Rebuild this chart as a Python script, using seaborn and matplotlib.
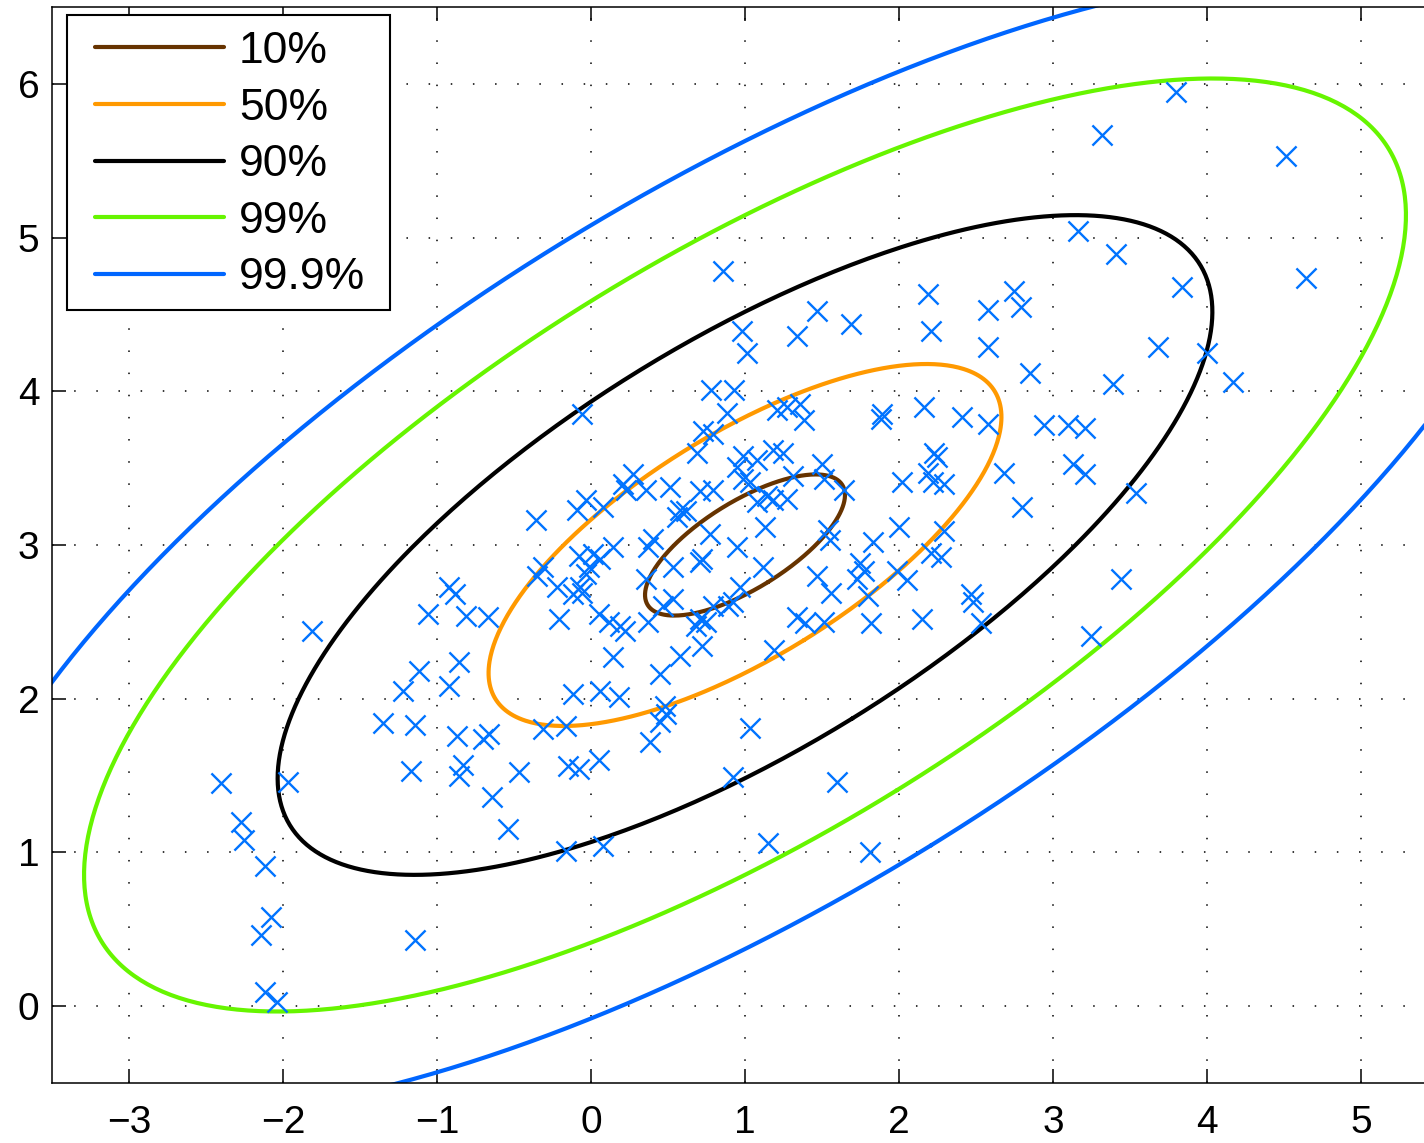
import numpy as np
import pandas as pd
import matplotlib
matplotlib.use("Agg")
import matplotlib.pyplot as plt
import matplotlib.patches as mpatches
import seaborn as sns

# ---- sample points ----
x_pts = [3.80, 3.32, 4.51, 3.16, 3.41, 4.64, 0.86, 3.84, 2.19, 2.75,
         2.79, 1.47, 1.69, 1.34, 2.21, 2.58, 2.58, 2.85, 0.98, 1.01,
         0.78, 0.93, 3.68, 4.00, 3.39, 4.17, 3.21, 3.21, 3.54, 3.44,
         3.25, 1.27, 1.36, 1.38, 1.89, 1.88, 2.16, 2.41, 2.58, 2.94,
         3.10, 3.13, 2.23, 2.25, 2.19, 2.22, 2.29, 2.68, 2.80, 2.02,
         1.25, 1.31, 1.50, 1.51, 1.64, 1.27, 1.54, 1.55, 1.83, 2.00,
         2.29, 2.21, 2.27, 1.75, 1.77, 1.73, 1.99, 2.05, 1.47, 1.56,
         1.80, 2.47, 2.48, 2.53, 1.34, 1.39, 1.51, 1.82, 2.15, 1.19,
         -0.06, 0.88, 1.21, 0.73, 0.79, 0.69, 0.99, 1.08, 1.18, 0.99,
         0.95, 0.27, 0.21, 0.23, 0.36, 0.51, 0.71, 0.79, 1.03, 1.14,
         1.18, 1.08, -0.03, -0.09, 0.08, -0.36, 0.58, 0.62, 0.56, 0.77,
         1.13, 0.40, 0.37, 0.14, 0.95, 0.01, -0.08, 0.06, 0.72, 0.71,
         -0.31, -0.01, 0.53, 1.12, -0.35, -0.03, 0.36, -0.22, -0.07, -0.12,
         -0.06, 0.97, 0.53, 0.92, 0.89, 0.79, 0.47, -0.67, -0.21, 0.05,
         0.12, 0.19, 0.22, 0.37, 0.71, 0.75, 0.68, 0.72, 0.14, 0.58,
         0.45, -0.12, 0.06, 0.18, 0.48, -0.92, -0.88, -1.06, -0.81, -1.81,
         -0.86, -1.12, -1.22, -0.92, -1.35, -1.14, -0.87, -1.17, -0.83, -0.86,
         -2.40, -1.97, -2.27, -2.25, -2.12, -2.08, -2.14, -1.14, -2.12, -2.04,
         -0.66, -0.70, -0.31, -0.16, 0.45, 0.49, 0.38, 1.03, -0.47, -0.15,
         -0.08, 0.05, -0.64, -0.54, 0.92, -0.16, 0.08, 1.15, 1.60, 1.81]
y_pts = [5.95, 5.67, 5.53, 5.04, 4.89, 4.74, 4.78, 4.68, 4.63, 4.65,
         4.55, 4.52, 4.44, 4.36, 4.39, 4.53, 4.29, 4.12, 4.39, 4.25,
         4.01, 4.01, 4.29, 4.25, 4.05, 4.06, 3.76, 3.46, 3.34, 2.78,
         2.41, 3.90, 3.92, 3.81, 3.85, 3.82, 3.90, 3.83, 3.79, 3.78,
         3.78, 3.53, 3.60, 3.57, 3.47, 3.41, 3.40, 3.47, 3.25, 3.41,
         3.60, 3.45, 3.53, 3.43, 3.36, 3.30, 3.10, 3.03, 3.02, 3.12,
         3.09, 2.95, 2.92, 2.88, 2.83, 2.78, 2.83, 2.77, 2.80, 2.69,
         2.67, 2.68, 2.63, 2.49, 2.53, 2.49, 2.50, 2.49, 2.52, 2.32,
         3.85, 3.86, 3.88, 3.74, 3.72, 3.60, 3.58, 3.55, 3.62, 3.43,
         3.51, 3.46, 3.40, 3.36, 3.36, 3.38, 3.35, 3.36, 3.41, 3.32,
         3.29, 3.28, 3.29, 3.23, 3.25, 3.16, 3.23, 3.22, 3.18, 3.07,
         3.12, 3.04, 2.99, 2.99, 2.99, 2.94, 2.93, 2.91, 2.91, 2.89,
         2.86, 2.86, 2.86, 2.86, 2.80, 2.81, 2.78, 2.73, 2.73, 2.68,
         2.69, 2.73, 2.65, 2.63, 2.60, 2.60, 2.60, 2.53, 2.52, 2.55,
         2.50, 2.47, 2.44, 2.50, 2.52, 2.50, 2.47, 2.34, 2.27, 2.28,
         2.16, 2.03, 2.05, 2.01, 1.95, 2.73, 2.68, 2.55, 2.54, 2.44,
         2.24, 2.18, 2.05, 2.08, 1.84, 1.83, 1.76, 1.53, 1.57, 1.50,
         1.45, 1.46, 1.20, 1.08, 0.91, 0.58, 0.46, 0.43, 0.09, 0.03,
         1.77, 1.74, 1.80, 1.82, 1.85, 1.90, 1.72, 1.81, 1.52, 1.56,
         1.54, 1.60, 1.36, 1.15, 1.49, 1.01, 1.04, 1.06, 1.46, 1.00]

# ---- Gaussian model behind the confidence contours ----
mean = [1.0, 3.0]
cov = [[2.0, 1.0], [1.0, 1.0]]
levels = [0.10, 0.50, 0.90, 0.99, 0.999]
level_labels = ["10%", "50%", "90%", "99%", "99.9%"]
level_colors = ["#663300", "#FF9900", "#000000", "#66F500", "#0066FF"]

x_ticks = [-3, -2, -1, 0, 1, 2, 3, 4, 5]
y_ticks = [0, 1, 2, 3, 4, 5, 6]

sns.set_style("ticks")
plt.rcParams['font.family'] = ['Liberation Sans', 'DejaVu Sans']
plt.rcParams['text.color'] = 'black'

W, H = 1424, 1143
fig = plt.figure(figsize=(W / 100, H / 100), dpi=100)
ax = fig.add_axes([52 / W, 60 / H, 1386 / W, 1076 / H])

# ellipses
t = np.linspace(0, 2 * np.pi, 500)
vals, vecs = np.linalg.eigh(np.array(cov))
circ = np.vstack([np.cos(t), np.sin(t)])
for p, lab, col in zip(levels, level_labels, level_colors):
    r2 = -2.0 * np.log(1.0 - p)  # chi-square quantile, 2 dof
    pts = vecs @ (np.sqrt(vals * r2)[:, None] * circ)
    df = pd.DataFrame({'x': pts[0] + mean[0], 'y': pts[1] + mean[1]})
    sns.lineplot(data=df, x='x', y='y', sort=False, estimator=None,
                 color=col, linewidth=3, label=lab, ax=ax, zorder=2)

# points
sns.scatterplot(x=x_pts, y=y_pts, marker='x', color='#0073FF', s=210,
                linewidth=1.7, ax=ax, zorder=3, legend=False)

ax.set_xlim(-3.5, 5.5)
ax.set_ylim(-0.5, 6.5)
ax.set_xticks(x_ticks)
ax.set_yticks(y_ticks)
ax.set_xlabel("")
ax.set_ylabel("")

ax.grid(True, color='black', linestyle=(0, (1, 13.5)), linewidth=1.1)
ax.set_axisbelow(True)
for sp in ax.spines.values():
    sp.set_visible(True)
    sp.set_linewidth(1.1)
    sp.set_color('black')
ax.tick_params(direction='in', length=10, width=1.1, top=True, right=True,
               labelsize=28, colors='black')
ax.tick_params(axis='x', pad=16)
ax.tick_params(axis='y', pad=9)

# legend frame (drawn separately to get MATLAB-like padding)
frame = mpatches.Rectangle((67 / W, 1 - 310 / H), 323 / W, 295 / H,
                           transform=fig.transFigure, facecolor='white',
                           edgecolor='black', linewidth=1.5, zorder=4,
                           clip_on=False)
ax.add_patch(frame)

leg = ax.legend(loc='upper left', bbox_to_anchor=(95 / W, 1 - 31 / H),
                bbox_transform=fig.transFigure, borderaxespad=0, borderpad=0,
                fontsize=32, handlelength=2.9, handletextpad=0.34,
                labelspacing=0.35, frameon=False)
leg.set_zorder(5)
for line in leg.get_lines():
    line.set_linewidth(3)
for txt in leg.get_texts():
    txt.set_color('black')

fig.savefig('out.png', dpi=100)
